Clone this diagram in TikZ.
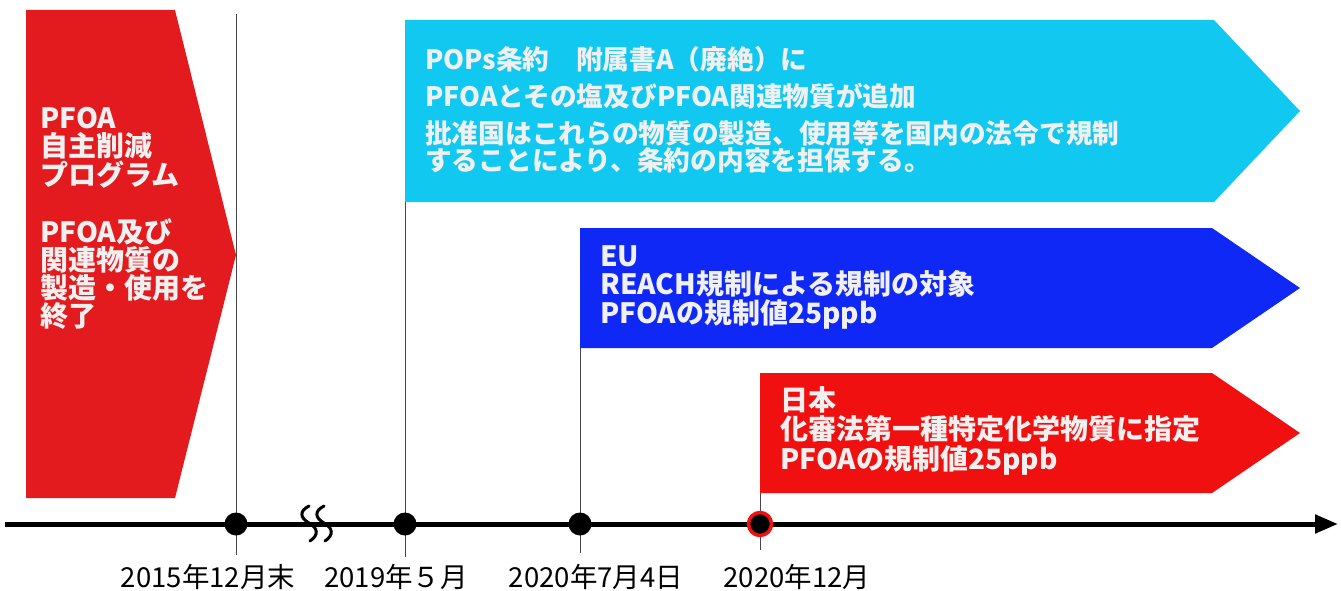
\documentclass[tikz,border=0pt]{standalone}
\usepackage{fontspec}
\newfontfamily\jp{Noto Sans CJK JP}
\usetikzlibrary{arrows.meta}
\definecolor{pfred}{RGB}{228,27,30}
\definecolor{jpred}{RGB}{240,16,16}
\definecolor{eublue}{RGB}{16,40,245}
\definecolor{popcyan}{RGB}{16,200,240}
\definecolor{txtw}{RGB}{240,240,240}
\definecolor{vline}{RGB}{70,70,70}
\begin{document}
\begin{tikzpicture}[x=1pt,y=-1pt,
  boxtext/.style={anchor=base west, inner sep=0, font=\jp\bfseries\fontsize{28}{30}\selectfont, text=txtw},
  popstext/.style={boxtext, font=\jp\bfseries\fontsize{26.7}{28}\selectfont},
  datelabel/.style={anchor=base, inner sep=0, font=\jp\fontsize{27.5}{30}\selectfont, text=black},
  tickline/.style={draw=vline, line width=1pt},
  dotnode/.style={circle, fill=black, minimum size=23pt, inner sep=0},
  squig/.style={draw=black, line width=3pt, line cap=round}
]
\useasboundingbox (0,0) rectangle (1341,591);

% coordinates for the tick lines
\coordinate (t1) at (236,14);  \coordinate (b1) at (236,555);
\coordinate (t2) at (405,20);  \coordinate (b2) at (405,557);
\coordinate (t3) at (580,228); \coordinate (b3) at (580,553);
\coordinate (t4) at (760,373); \coordinate (b4) at (760,550);
\draw[tickline] (t1) -- (b1);
\draw[tickline] (t2) -- (b2);
\draw[tickline] (t3) -- (b3);
\draw[tickline] (t4) -- (b4);

% shapes
\fill[pfred] (26,10) -- (175,10) -- (236,255) -- (175,498) -- (26,498) -- cycle;
\fill[popcyan] (405,20) -- (1214,20) -- (1300,111) -- (1214,202) -- (405,202) -- cycle;
\fill[eublue] (580,228) -- (1212,228) -- (1300,288) -- (1212,348) -- (580,348) -- cycle;
\fill[jpred] (760,373) -- (1212,373) -- (1300,433) -- (1212,493) -- (760,493) -- cycle;

% axis
\coordinate (axL) at (5,524);
\coordinate (axR) at (1338,524);
\draw[line width=5pt, -{Triangle[length=23pt,width=18pt]}] (axL) -- (axR);

% break mark
\draw[squig] (309,506) .. controls (299,511) and (300,518) .. (309,523) .. controls (318,528) and (319,535) .. (310,541);
\draw[squig] (324,506) .. controls (314,511) and (315,518) .. (324,523) .. controls (333,528) and (334,535) .. (325,541);

% dots
\node[dotnode] (d1) at (236,524) {};
\node[dotnode] (d2) at (405,524) {};
\node[dotnode] (d3) at (580,524) {};
\node[dotnode, draw=jpred, line width=3.5pt, minimum size=23pt] (d4) at (760,524) {};

% left box text
\node[boxtext] (l1) at (40,129) {PFOA};
\node[boxtext] (l2) at (40,157) {自主削減};
\node[boxtext] (l3) at (40,185) {プログラム};
\node[boxtext] (l4) at (40,242) {PFOA及び};
\node[boxtext] (l5) at (40,270) {関連物質の};
\node[boxtext] (l6) at (40,298) {製造・使用を};
\node[boxtext] (l7) at (40,326) {終了};

% cyan box text
\node[popstext] (c1) at (425,70) {POPs条約　附属書A（廃絶）に};
\node[popstext] (c2) at (425,107) {PFOAとその塩及びPFOA関連物質が追加};
\node[popstext] (c3) at (425,144) {批准国はこれらの物質の製造、使用等を国内の法令で規制};
\node[popstext] (c4) at (425,170) {することにより、条約の内容を担保する。};

% blue box text
\node[boxtext] (e1) at (600,266) {EU};
\node[boxtext] (e2) at (600,294) {REACH規制による規制の対象};
\node[boxtext] (e3) at (600,323) {PFOAの規制値25ppb};

% red box text
\node[boxtext] (j1) at (780,410) {日本};
\node[boxtext] (j2) at (780,439) {化審法第一種特定化学物質に指定};
\node[boxtext] (j3) at (780,469) {PFOAの規制値25ppb};

% date labels
\node[datelabel] (dl1) at (208,587) {2015年12月末};
\node[datelabel] (dl2) at (396,587) {2019年５月};
\node[datelabel] (dl3) at (596,587) {2020年7月4日};
\node[datelabel] (dl4) at (797,587) {2020年12月};
\end{tikzpicture}
\end{document}
